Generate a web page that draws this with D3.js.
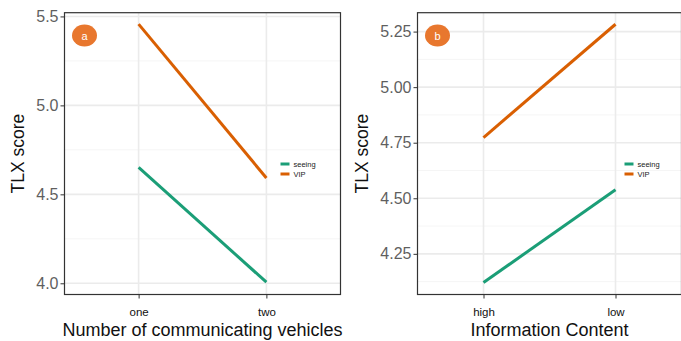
<!DOCTYPE html>
<html><head><meta charset="utf-8">
<script src="https://cdn.jsdelivr.net/npm/d3@7"></script>
<style>body{margin:0;background:#fff}svg{display:block}text{font-family:"Liberation Sans",Arial,sans-serif}</style>
</head><body><svg id="c" width="681" height="341"></svg>
<script>
const groups = ["seeing", "VIP"];
const colors = ["#1B9E77", "#D95F02"];
const catsA = ["one", "two"];
const seeingA = [4.652, 4.006];
const vipA = [5.457, 4.592];
const ticksA = [4.0, 4.5, 5.0, 5.5];
const minorA = [4.25, 4.75, 5.25];
const catsB = ["high", "low"];
const seeingB = [4.121, 4.538];
const vipB = [4.773, 5.283];
const ticksB = [4.25, 4.50, 4.75, 5.00, 5.25];
const minorB = [4.125, 4.375, 4.625, 4.875, 5.125];

const svg = d3.select("#c");

function panel(cfg){
  const {x0,x1,y0,y1,domain,cats,series,ticks,minor,fmt,xtitle,badge,legendX,titleX} = cfg;
  const g = svg.append("g");
  const y = d3.scaleLinear().domain(domain).range([y1,y0]);
  const x = d3.scalePoint().domain(cats).range([x0,x1]).padding(cfg.pad);
  // minor grid
  g.selectAll(".mn").data(minor).join("line")
    .attr("x1",x0).attr("x2",x1).attr("y1",d=>y(d)).attr("y2",d=>y(d))
    .attr("stroke","#f3f3f3").attr("stroke-width",0.8);
  g.selectAll(".mj").data(ticks).join("line")
    .attr("x1",x0).attr("x2",x1).attr("y1",d=>y(d)).attr("y2",d=>y(d))
    .attr("stroke","#ebebeb").attr("stroke-width",1.6);
  g.selectAll(".vx").data(cats).join("line")
    .attr("x1",d=>x(d)).attr("x2",d=>x(d)).attr("y1",y0).attr("y2",y1)
    .attr("stroke","#ebebeb").attr("stroke-width",1.6);
  // lines
  const line = d3.line().x((d,i)=>x(cats[i])).y(d=>y(d));
  series.forEach((s,i)=>{
    g.append("path").attr("d",line(s)).attr("fill","none")
      .attr("stroke",colors[i]).attr("stroke-width",3);
  });
  // border
  g.append("rect").attr("x",x0).attr("y",y0).attr("width",x1-x0).attr("height",y1-y0)
    .attr("fill","none").attr("stroke","#333").attr("stroke-width",1.2);
  // y axis
  const ya = g.append("g").attr("transform",`translate(${x0},0)`)
    .call(d3.axisLeft(y).tickValues(ticks).tickFormat(fmt).tickSize(4).tickPadding(2));
  ya.select(".domain").remove();
  ya.selectAll("line").attr("stroke","#333");
  ya.selectAll("text").attr("font-size",16).attr("fill","#5f5f5f");
  // x axis
  const xa = g.append("g").attr("transform",`translate(0,${y1})`)
    .call(d3.axisBottom(x).tickSize(4).tickPadding(9));
  xa.select(".domain").remove();
  xa.selectAll("line").attr("stroke","#333");
  xa.selectAll("text").attr("font-size",11.5).attr("fill","#111");
  // titles
  g.append("text").attr("x",(x0+x1)/2).attr("y",336).attr("text-anchor","middle")
    .attr("font-size",18).attr("fill","#111").text(xtitle);
  g.append("text").attr("transform",`translate(${titleX},${(y0+y1)/2}) rotate(-90)`)
    .attr("text-anchor","middle").attr("font-size",17.5).attr("fill","#111").text("TLX score");
  // badge
  g.append("ellipse").attr("cx",x0+20).attr("cy",35.5).attr("rx",12.5).attr("ry",11)
    .attr("fill","#E8772E");
  g.append("text").attr("x",x0+20).attr("y",39.5).attr("text-anchor","middle")
    .attr("font-size",11).attr("fill","#fff").text(badge);
  // legend
  groups.forEach((gr,i)=>{
    const ly = 164 + i*10;
    g.append("line").attr("x1",legendX).attr("x2",legendX+9).attr("y1",ly).attr("y2",ly)
      .attr("stroke",colors[i]).attr("stroke-width",3);
    g.append("text").attr("x",legendX+13).attr("y",ly+2.5).attr("font-size",7.5)
      .attr("fill","#222").text(gr);
  });
}

panel({x0:64.5,x1:340.5,y0:12.7,y1:294.5,domain:[3.937,5.521],cats:catsA,
  series:[seeingA,vipA],ticks:ticksA,minor:minorA,fmt:d3.format(".1f"),
  xtitle:"Number of communicating vehicles",badge:"a",legendX:280.5,titleX:24,pad:0.58});
panel({x0:417.5,x1:681.5,y0:12.7,y1:294.5,domain:[4.067,5.335],cats:catsB,
  series:[seeingB,vipB],ticks:ticksB,minor:minorB,fmt:d3.format(".2f"),
  xtitle:"Information Content",badge:"b",legendX:624.5,titleX:368,pad:0.5});
</script></body></html>
